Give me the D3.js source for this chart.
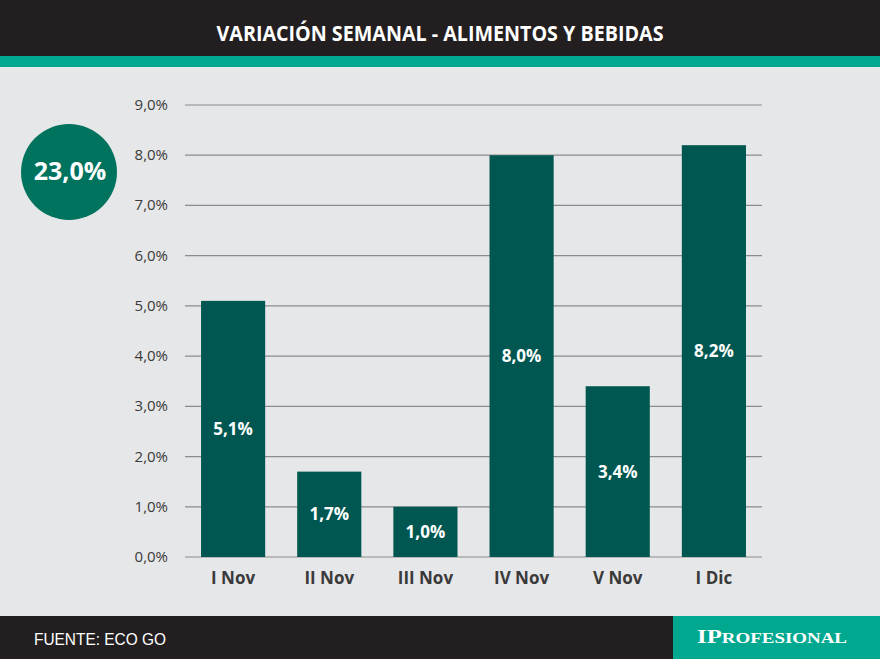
<!DOCTYPE html>
<html><head><meta charset="utf-8">
<script src="https://cdn.jsdelivr.net/npm/d3@7"></script>
<style>body{margin:0;padding:0;background:#e6e7e8;}svg{display:block;}</style>
</head><body><svg id="c" width="880" height="659"></svg>
<script>
const categories = ["I Nov","II Nov","III Nov","IV Nov","V Nov","I Dic"];
const values = [5.1,1.7,1.0,8.0,3.4,8.2];
const yTicks = [0,1,2,3,4,5,6,7,8,9];
const title = "VARIACIÓN SEMANAL - ALIMENTOS Y BEBIDAS";
const totalLabel = "23,0%";
const source = "FUENTE: ECO GO";
const brand = "IPROFESIONAL";

const svg = d3.select("#c");
const W = 880, H = 659;
const fmt = v => d3.format(".1f")(v).replace(".", ",") + "%";

svg.append("rect").attr("width",W).attr("height",H).attr("fill","#e6e7e8");
// header
svg.append("rect").attr("x",0).attr("y",0).attr("width",W).attr("height",56).attr("fill","#231f20");
svg.append("rect").attr("x",0).attr("y",56).attr("width",W).attr("height",11).attr("fill","#00a88f");
svg.append("text").attr("x",440).attr("y",41).attr("text-anchor","middle")
  .attr("font-family","Open Sans").attr("font-weight","bold").attr("font-size",22)
  .attr("fill","#fff")
  .attr("textLength",447).attr("lengthAdjust","spacingAndGlyphs").text(title);

// footer
svg.append("rect").attr("x",0).attr("y",616).attr("width",W).attr("height",43).attr("fill","#231f20");
svg.append("rect").attr("x",673).attr("y",616).attr("width",207).attr("height",43).attr("fill","#00a88f");
svg.append("text").attr("x",34).attr("y",645).attr("font-family","Liberation Sans, Arial").attr("font-size",16)
  .attr("fill","#fff").attr("textLength",132).attr("lengthAdjust","spacingAndGlyphs").text(source);
const bt = svg.append("text").attr("x",697).attr("y",643)
  .attr("font-family","Liberation Serif, Times New Roman").attr("font-weight","bold").attr("fill","#fff")
  .attr("textLength",150).attr("lengthAdjust","spacingAndGlyphs");
bt.append("tspan").attr("font-size",19).text(brand.slice(0,2));
bt.append("tspan").attr("font-size",14.5).text(brand.slice(2));

// chart
const x = d3.scaleBand().domain(categories).range([185,762]).paddingInner(0.333).paddingOuter(0.1667);
const y = d3.scaleLinear().domain([0,9]).range([557,105]);

const grid = svg.append("g");
grid.selectAll("line").data(yTicks).join("line")
  .attr("x1",185).attr("x2",762).attr("y1",d=>y(d)).attr("y2",d=>y(d))
  .attr("stroke","#8c8c8c").attr("stroke-width",1.2);
grid.selectAll("text").data(yTicks).join("text")
  .attr("x",168).attr("y",d=>y(d)+5).attr("text-anchor","end")
  .attr("font-family","Open Sans").attr("font-size",15).attr("fill","#3a3a3a").text(d=>fmt(d));

svg.append("g").selectAll("rect").data(values).join("rect")
  .attr("x",(d,i)=>x(categories[i])).attr("width",x.bandwidth())
  .attr("y",d=>y(d)).attr("height",d=>y(0)-y(d)).attr("fill","#005751");

svg.append("g").selectAll("text").data(values).join("text")
  .attr("x",(d,i)=>x(categories[i])+x.bandwidth()/2).attr("y",d=>(y(d)+y(0))/2+6)
  .attr("text-anchor","middle").attr("font-family","Open Sans").attr("font-weight","bold")
  .attr("font-size",17).attr("fill","#fff").text(d=>fmt(d));

svg.append("g").selectAll("text").data(categories).join("text")
  .attr("x",d=>x(d)+x.bandwidth()/2).attr("y",584).attr("text-anchor","middle")
  .attr("font-family","Open Sans").attr("font-weight","bold").attr("font-size",17)
  .attr("fill","#3a3a3a").text(d=>d);

// total circle
svg.append("circle").attr("cx",69).attr("cy",172).attr("r",48).attr("fill","#00735f");
svg.append("text").attr("x",70).attr("y",180).attr("text-anchor","middle")
  .attr("font-family","Open Sans").attr("font-weight","bold").attr("font-size",25)
  .attr("fill","#fff").text(totalLabel);
</script></body></html>
